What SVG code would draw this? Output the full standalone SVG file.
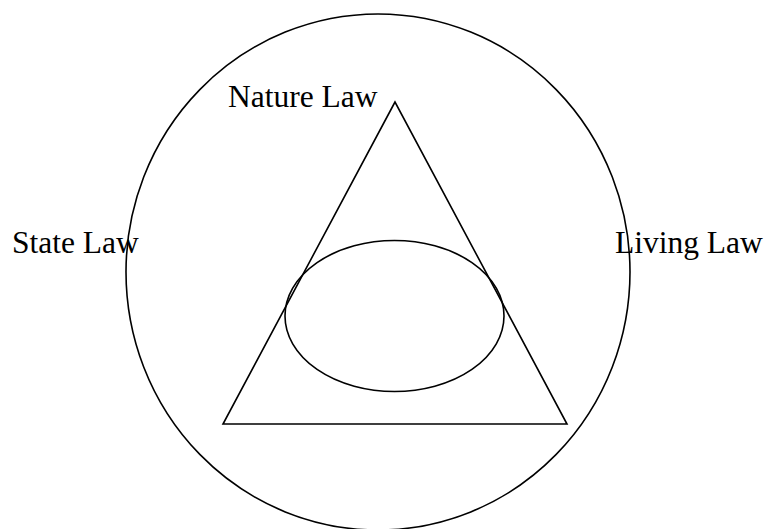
<svg xmlns="http://www.w3.org/2000/svg" width="766" height="529" viewBox="0 0 766 529">
<style>
.s{fill:none;stroke:#000;stroke-width:1.6}
.t{font-family:"Liberation Serif","Times New Roman",serif;font-size:31.5px;fill:#000}
</style>
<rect width="766" height="529" fill="#fff"/>
<g id="outer"><ellipse class="s" cx="378" cy="272" rx="252" ry="258"/></g>
<g id="triangle"><polygon class="s" stroke-width="2" points="395,102 223,424 567,424"/></g>
<g id="inner"><ellipse class="s" cx="394.5" cy="316" rx="109.5" ry="75.5"/></g>
<g id="labels">
<text class="t" x="228" y="107">Nature Law</text>
<text class="t" x="12" y="253">State Law</text>
<text class="t" x="615" y="253">Living Law</text>
</g>
<g id="connectors"/>
</svg>
